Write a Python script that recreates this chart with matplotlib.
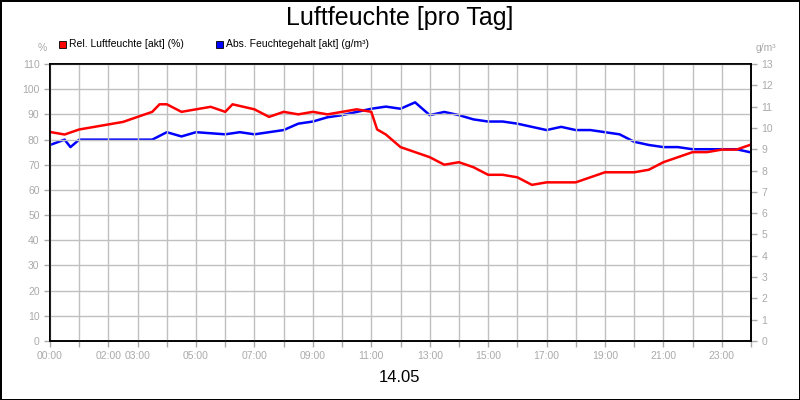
import numpy as np
import matplotlib.pyplot as plt
from matplotlib.patches import Rectangle

plt.rcParams['font.family'] = ['Liberation Sans', 'DejaVu Sans']

# hours of day
hours_rel = [0, 0.5, 1, 1.5, 2, 2.5, 3, 3.5, 3.75, 4, 4.5, 5, 5.5, 6, 6.25, 7, 7.5, 8, 8.5, 9,
             9.5, 10, 10.5, 11, 11.2, 11.5, 12, 12.5, 13, 13.5, 14, 14.5, 15, 15.5, 16, 16.5,
             17, 17.5, 18, 18.5, 19, 19.5, 20, 20.5, 21, 21.5, 22, 22.5, 23, 23.5, 24]
rel_hum = [83, 82, 84, 85, 86, 87, 89, 91, 94, 94, 91, 92, 93, 91, 94, 92, 89, 91, 90, 91,
           90, 91, 92, 91, 84, 82, 77, 75, 73, 70, 71, 69, 66, 66, 65, 62,
           63, 63, 63, 65, 67, 67, 67, 68, 71, 73, 75, 75, 76, 76, 78]

hours_abs = [0, 0.5, 0.7, 1, 2, 3, 3.5, 4, 4.5, 5, 6, 6.5, 7, 7.5, 8, 8.5, 9, 9.5, 10, 10.5,
             11, 11.5, 12, 12.5, 13, 13.5, 14, 14.5, 15, 15.5, 16, 16.5, 17, 17.5, 18, 18.5,
             19, 19.5, 20, 20.5, 21, 21.5, 22, 22.5, 23, 23.5, 24]
abs_hum = [9.2, 9.45, 9.1, 9.45, 9.45, 9.45, 9.45, 9.8, 9.6, 9.8, 9.7, 9.8, 9.7, 9.8, 9.9, 10.2,
           10.3, 10.5, 10.6, 10.75, 10.9, 11.0, 10.9, 11.2, 10.6, 10.75, 10.6, 10.4, 10.3, 10.3,
           10.2, 10.05, 9.9, 10.05, 9.9, 9.9, 9.8, 9.7, 9.35, 9.2, 9.1, 9.1, 9.0, 9.0, 9.0, 9.0, 8.85]

tick_hours = [0, 2, 3, 5, 7, 9, 11, 13, 15, 17, 19, 21, 23]

fig = plt.figure(figsize=(8, 4), dpi=100)
fig.patch.set_edgecolor("black")
fig.patch.set_linewidth(2)
ax = fig.add_axes([50/800, 1-341/400, 701/800, 277/400])
ax2 = ax.twinx()

grey = "#aaaaaa"
ax.set_xlim(0, 24)
ax.set_ylim(0, 110)
ax2.set_ylim(0, 13)
ax.set_xticks(range(25))
ax.set_xticklabels(["%02d:00" % h if h in tick_hours else "" for h in range(25)])
ax.set_yticks(range(0, 111, 10))
ax2.set_yticks(range(0, 14))
ax.grid(True, color="#c0c0c0", linewidth=1)
for a in (ax, ax2):
    a.tick_params(colors=grey, labelsize=7.5, length=4, width=1)
    for s in a.spines.values():
        s.set_color("black")
        s.set_linewidth(1.2)

ax.plot(hours_rel, rel_hum, color="red", linewidth=1.8)
ax2.plot(hours_abs, abs_hum, color="blue", linewidth=1.8)
ax.set_zorder(ax2.get_zorder() + 1)
ax.patch.set_visible(False)

fig.text(0.5, 0.955, "Luftfeuchte [pro Tag]", ha="center", va="center", fontsize=18)
fig.text(0.5, 0.055, "14.05", ha="center", va="center", fontsize=12)
fig.text(42/800, 1-48/400, "%", ha="center", va="center", fontsize=7.5, color=grey)
fig.text(766/800, 1-48/400, "g/m³", ha="center", va="center", fontsize=7.5, color=grey)

fig.patches.append(Rectangle((59/800, 1-48/400), 7/800, 7/400, transform=fig.transFigure,
                             facecolor="red", edgecolor="black", linewidth=0.6))
fig.text(69/800, 1-44/400, "Rel. Luftfeuchte [akt] (%)", va="center", fontsize=7.5)
fig.patches.append(Rectangle((216/800, 1-48/400), 7/800, 7/400, transform=fig.transFigure,
                             facecolor="blue", edgecolor="black", linewidth=0.6))
fig.text(226/800, 1-44/400, "Abs. Feuchtegehalt [akt] (g/m³)", va="center", fontsize=7.5)

fig.savefig("out.png", dpi=100, edgecolor=fig.get_edgecolor())
